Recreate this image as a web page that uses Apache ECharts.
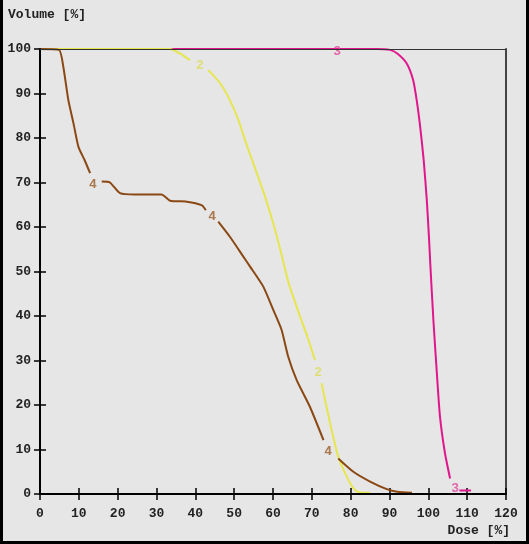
<!DOCTYPE html>
<html><head><meta charset="utf-8">
<script src="https://cdn.jsdelivr.net/npm/echarts@6/dist/echarts.min.js"></script>
<style>
html,body{margin:0;padding:0;background:#e6e6e6;}
#frame{position:absolute;left:0;top:0;width:529px;height:544px;box-sizing:border-box;border-left:3px solid #000;border-right:3px solid #000;border-bottom:3px solid #000;background:#e6e6e6;}
#c{width:523px;height:541px;}
</style></head>
<body><div id="frame"><div id="c"></div></div>
<script>
// Curve data (Dose %, Volume %), '-' marks a gap where a curve label sits
var curve2 = [[0,100],[33.5,100],[36,99],[38.6,97.5],['-','-'],[43.3,95.3],[46.4,92.3],[48.9,88.5],[51.1,84.0],[53.2,78.5],[55.5,72.9],[57.7,67.5],[60.0,61.0],[62.0,54.5],[64.0,47.5],[67.0,39.8],[68.8,35.5],[70.8,30.1],['-','-'],[72.5,24.9],[74.7,15.9],[76.8,8.4],[79.0,3.9],[80.7,1.3],[82.0,0.4],[85.0,0.3]];
var curve3 = [[0,100],[86.7,100],[90.1,99.8],[92.0,99.0],[94.4,96.8],[96.1,93.0],[97.0,88.5],[97.9,82.5],[98.8,75.1],[99.6,66.1],[100.2,57.1],[100.5,51.8],[101.3,39.1],[102.2,27.1],[103.0,17.4],[104.3,9.1],[105.6,3.5],['-','-'],[108.0,0.8],[111.0,0.8]];
var curve4 = [[0,100],[4.9,99.8],[6.0,96.0],[7.3,88.5],[8.6,83.4],[9.9,78.0],[11.5,75.0],[12.9,72.1],['-','-'],[15.9,70.2],[18.0,70.0],[20.6,67.6],[24.5,67.3],[31.3,67.3],[33.5,65.9],[37.8,65.7],[41.6,64.9],[42.7,63.8],['-','-'],[45.9,61.2],[48.9,57.8],[52.4,53.3],[54.1,51.1],[57.5,46.6],[60.1,41.3],[62.2,36.9],[63.9,30.9],[66.1,25.6],[69.5,19.6],[73.0,12.1],['-','-'],[76.8,8.0],[80.7,5.0],[85.0,2.8],[89.3,1.1],[92.0,0.5],[95.8,0.3]];
// Curve label anchors
var labels2 = [[41.2,96.2],[71.6,27.2]];
var labels3 = [[76.5,99.5],[106.9,1.1]];
var labels4 = [[13.6,69.4],[44.3,62.2],[74.2,9.4]];
var xTicks = {min:0, max:120, interval:10};
var yTicks = {min:0, max:100, interval:10};
var xTitle = 'Dose [%]';
var yTitle = 'Volume [%]';

var FONT = 'Liberation Mono';
var chart = echarts.init(document.getElementById('c'), null, {renderer:'canvas'});

function labelSeries(data, text, color){
  return {type:'scatter', data:data, symbolSize:1, itemStyle:{color:'transparent'}, z:6, silent:true,
    label:{show:true, position:'inside', formatter:text, color:color, fontFamily:FONT, fontSize:13, fontWeight:'bold'}};
}
function lineSeries(data, color){
  return {type:'line', data:data, showSymbol:false, symbol:'none', connectNulls:false, smooth:0.2,
    lineStyle:{color:color, width:2}, z:3, silent:true};
}
var labStyle = {fontFamily:FONT, fontSize:13, color:'#222', fontWeight:'bold'};
var gridRect = {left:37, right:20, top:49, bottom:47};
chart.setOption({
  animation:false,
  backgroundColor:'#e6e6e6',
  grid:[Object.assign({}, gridRect), Object.assign({}, gridRect)],
  graphic:[
    {type:'text', left:5, top:8, style:{text:yTitle, font:'bold 13px "Liberation Mono"', fill:'#222'}},
    {type:'text', right:16, top:524, style:{text:xTitle, font:'bold 13px "Liberation Mono"', fill:'#222'}}
  ],
  xAxis:[
    {gridIndex:0, type:'value', min:xTicks.min, max:xTicks.max, interval:xTicks.interval, position:'bottom', z:5,
     axisLine:{show:true, onZero:false, lineStyle:{color:'#000', width:2}}, axisTick:{show:true, length:6, lineStyle:{color:'#000', width:1.5}},
     axisLabel:Object.assign({margin:13}, labStyle), splitLine:{show:false}},
    {gridIndex:0, type:'value', min:xTicks.min, max:xTicks.max, position:'top', z:10,
     axisLine:{show:true, onZero:false, lineStyle:{color:'#333', width:1}}, axisTick:{show:false}, axisLabel:{show:false}, splitLine:{show:false}},
    {gridIndex:1, type:'value', min:xTicks.min, max:xTicks.max, interval:xTicks.interval, position:'bottom',
     axisLine:{show:false, onZero:false}, axisTick:{show:true, inside:true, length:6, lineStyle:{color:'#000', width:1.5}},
     axisLabel:{show:false}, splitLine:{show:false}}
  ],
  yAxis:[
    {gridIndex:0, type:'value', min:yTicks.min, max:yTicks.max, interval:yTicks.interval, position:'left', z:5,
     axisLine:{show:true, onZero:false, lineStyle:{color:'#000', width:2}}, axisTick:{show:true, length:6, lineStyle:{color:'#000', width:1.5}},
     axisLabel:Object.assign({margin:9}, labStyle), splitLine:{show:false}},
    {gridIndex:0, type:'value', min:yTicks.min, max:yTicks.max, position:'right',
     axisLine:{show:true, onZero:false, lineStyle:{color:'#444', width:2}}, axisTick:{show:false}, axisLabel:{show:false}, splitLine:{show:false}},
    {gridIndex:1, type:'value', min:yTicks.min, max:yTicks.max, interval:yTicks.interval, position:'left',
     axisLine:{show:false, onZero:false}, axisTick:{show:true, inside:true, length:6, lineStyle:{color:'#000', width:1.5}},
     axisLabel:{show:false}, splitLine:{show:false}}
  ],
  series:[
    lineSeries(curve3, '#e0178c'),
    lineSeries(curve2, '#e6e650'),
    lineSeries(curve4, '#8a4814'),
    labelSeries(labels2, '2', '#dcdc5a'),
    labelSeries(labels3, '3', '#e0479b'),
    labelSeries(labels4, '4', '#9c5c28')
  ]
});
</script></body></html>
